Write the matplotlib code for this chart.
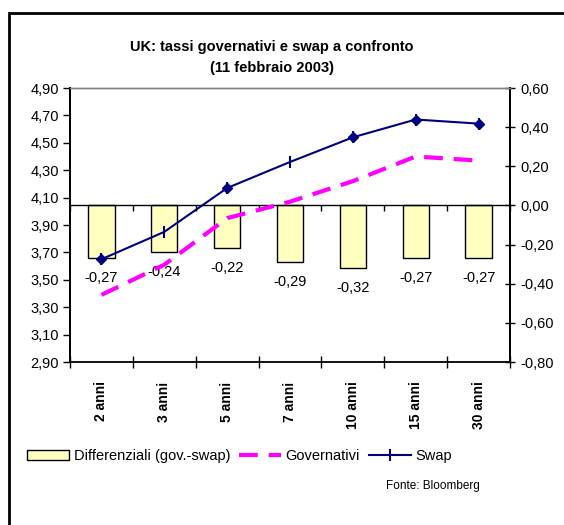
import numpy as np
import matplotlib.pyplot as plt
from matplotlib.patches import Rectangle
from matplotlib.ticker import FixedLocator, FuncFormatter

plt.rcParams['font.family'] = ['Liberation Sans', 'DejaVu Sans']

# data
categories = ['2 anni', '3 anni', '5 anni', '7 anni', '10 anni', '15 anni', '30 anni']
differenziali = [-0.27, -0.24, -0.22, -0.29, -0.32, -0.27, -0.27]
governativi = [3.39, 3.61, 3.95, 4.07, 4.22, 4.40, 4.37]
swap = [3.65, 3.85, 4.17, 4.36, 4.54, 4.67, 4.64]
# Excel drew diamonds on some points and ticks on others
diamond_idx = [0, 2, 4, 5, 6]
left_ticks = np.round(np.arange(2.90, 4.91, 0.20), 2)
right_ticks = np.round(np.arange(-0.80, 0.61, 0.20), 2)


def fmt_comma(v, pos=None):
    v = round(v, 2) + 0.0
    if abs(v) < 1e-9:
        v = 0.0
    return f'{v:.2f}'.replace('.', ',')


fig = plt.figure(figsize=(5.64, 5.25), dpi=100)
fig.patch.set_facecolor('white')

# outer chart frame (runs off the right / bottom edge as in the source)
fig.patches.append(Rectangle((9 / 564, -0.05), 1.1, 1 - 13 / 525 + 0.05,
                             transform=fig.transFigure, fill=False,
                             edgecolor='black', linewidth=2))

ax = fig.add_axes([70 / 564, 1 - 362 / 525, 440 / 564, 274 / 525])
ax2 = ax.twinx()

x = list(range(len(categories)))
comma = FuncFormatter(fmt_comma)

# bars on the secondary (right) axis
bars = ax2.bar(x, differenziali, width=0.42, color='#FFFFC0', edgecolor='black',
               linewidth=1, zorder=1, label='Differenziali (gov.-swap)')
for xi, v in zip(x, differenziali):
    ax2.annotate(fmt_comma(v), (xi, v), xytext=(0, -14),
                 textcoords='offset points', ha='center', va='center', fontsize=10.5)

# zero line of the right axis with its small ticks
ax2.spines['bottom'].set_position(('data', 0))
ax2.spines['bottom'].set_linewidth(1)
ax2.xaxis.set_visible(True)
ax2.tick_params(axis='x', which='major', direction='out', length=4, width=1,
                labelbottom=False)
ax2.tick_params(axis='x', which='minor', length=0, labelbottom=False)

# lines on the primary (left) axis, drawn above the bars
ax.set_zorder(ax2.get_zorder() + 1)
ax.patch.set_visible(False)
ax.plot(x, governativi, color='#FF00FF', linewidth=3, dashes=(4.5, 2.6),
        label='Governativi', zorder=3)
ax.plot(x, swap, color='#000080', linewidth=1.5, marker='|', markersize=8,
        markeredgewidth=1.5, label='Swap', zorder=4)
ax.plot([x[i] for i in diamond_idx], [swap[i] for i in diamond_idx], linestyle='none',
        marker='D', markersize=5, color='#000080', zorder=5)

ax.set_xlim(-0.5, len(categories) - 0.5)
ax.set_ylim(left_ticks[0], left_ticks[-1])
ax2.set_ylim(right_ticks[0], right_ticks[-1])
ax.yaxis.set_major_locator(FixedLocator(left_ticks))
ax2.yaxis.set_major_locator(FixedLocator(right_ticks))
ax.yaxis.set_major_formatter(comma)
ax2.yaxis.set_major_formatter(comma)

# category axis: ticks between categories, labels at centers
ax.xaxis.set_major_locator(FixedLocator([i - 0.5 for i in range(len(categories) + 1)]))
ax.xaxis.set_minor_locator(FixedLocator(x))
ax.set_xticklabels([], minor=False)
ax.set_xticklabels(categories, minor=True, rotation=90, fontweight='bold', fontsize=10)
ax.tick_params(axis='x', which='major', direction='inout', length=8, width=1)
ax.tick_params(axis='x', which='minor', length=0, pad=14)

ax.tick_params(axis='y', direction='out', length=5, width=1, labelsize=10.5, pad=3)
ax2.tick_params(axis='y', direction='inout', length=7, width=1, labelsize=10.5, pad=4)

for a in (ax, ax2):
    a.spines['top'].set_color('#808080')
    a.spines['top'].set_linewidth(1)
    a.spines['left'].set_linewidth(1.3)
    a.spines['right'].set_linewidth(1.3)
ax.spines['bottom'].set_linewidth(1.3)

fig.text(272 / 564, 1 - 47 / 525, 'UK: tassi governativi e swap a confronto',
         ha='center', va='center', fontsize=10.5, fontweight='bold')
fig.text(272 / 564, 1 - 68 / 525, '(11 febbraio 2003)',
         ha='center', va='center', fontsize=10.5, fontweight='bold')

handles = [bars] + ax.get_lines()[:2]
fig.legend(handles, [h.get_label() for h in handles], loc='center left',
           bbox_to_anchor=(27 / 564, 1 - 456 / 525), ncol=3, frameon=False,
           fontsize=10.5, handlelength=2.9, handletextpad=0.3, columnspacing=0.6,
           borderaxespad=0, borderpad=0)

fig.text(480 / 564, 1 - 486 / 525, 'Fonte: Bloomberg', ha='right', va='center',
         fontsize=8.5)

fig.savefig('out.png', dpi=100)
